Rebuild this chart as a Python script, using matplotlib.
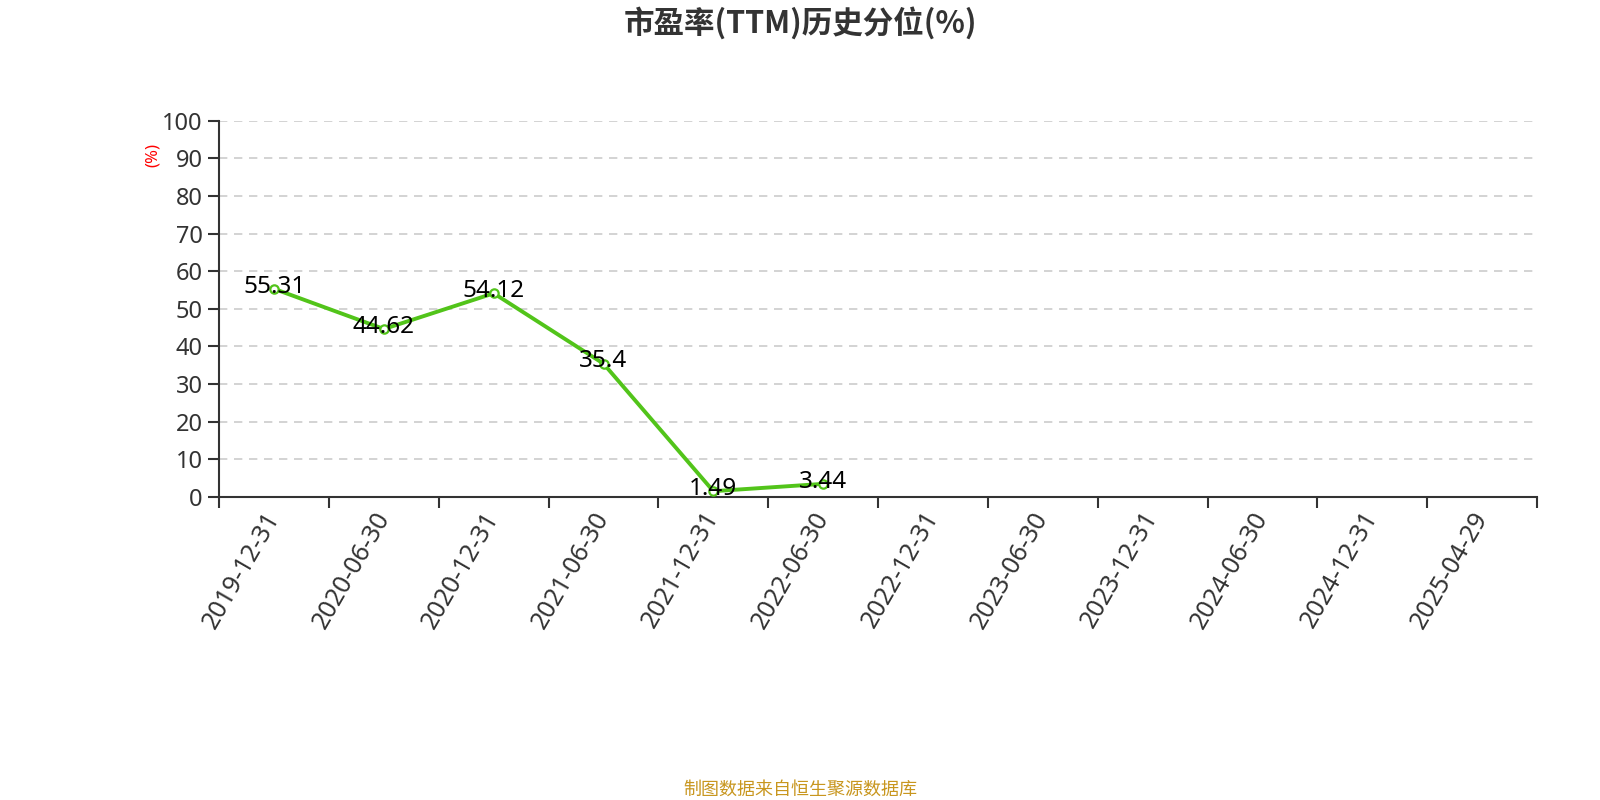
import matplotlib
matplotlib.use('Agg')
import matplotlib.pyplot as plt
import numpy as np

plt.rcParams['font.family'] = ['Noto Sans', 'Noto Sans CJK SC', 'DejaVu Sans']

# ─── Data ────────────────────────────────────────────────────────────────────
dates = ['2019-12-31', '2020-06-30', '2020-12-31', '2021-06-30', '2021-12-31',
         '2022-06-30', '2022-12-31', '2023-06-30', '2023-12-31', '2024-06-30',
         '2024-12-31', '2025-04-29']
pe_pct = [55.31, 44.62, 54.12, 35.4, 1.49, 3.44]
pe_labels = ['55.31', '44.62', '54.12', '35.4', '1.49', '3.44']
y_ticks = [0, 10, 20, 30, 40, 50, 60, 70, 80, 90, 100]

GREEN = '#52c41a'
DARK = '#333333'

# ─── Canvas ──────────────────────────────────────────────────────────────────
fig = plt.figure(figsize=(16, 8), dpi=100, facecolor='white')
ax = fig.add_axes([0.137, 0.379, 0.8236, 0.470])

x = np.arange(len(pe_pct))
ax.plot(x, pe_pct, color=GREEN, linewidth=2.8, zorder=3,
        marker='o', markersize=6, markerfacecolor='white',
        markeredgecolor=GREEN, markeredgewidth=1.6)

for xi, yi, s in zip(x, pe_pct, pe_labels):
    ax.text(xi, yi + 0.6, s, ha='center', va='center', fontsize=17.5,
            color='black', zorder=4)

ax.set_xlim(-0.5, len(dates) - 0.5)
ax.set_ylim(0, 100)

# y axis
ax.set_yticks(y_ticks)
ax.set_yticklabels([str(v) for v in y_ticks], fontsize=17, color=DARK)
ax.tick_params(axis='y', length=8, width=1.5, color=DARK, pad=4)
for v in y_ticks[1:]:
    ax.axhline(v, color='#cccccc', linewidth=1.2, linestyle=(0, (5, 4)), zorder=1)

# x axis: labels at category centres, ticks at boundaries
ax.set_xticks(np.arange(len(dates)))
ax.set_xticklabels(dates, rotation=60, ha='right', va='center',
                   rotation_mode='anchor', fontsize=18, color=DARK)
ax.tick_params(axis='x', which='major', length=0, pad=12)
ax.set_xticks(np.arange(-0.5, len(dates)), minor=True)
ax.tick_params(axis='x', which='minor', length=8, width=1.5, color=DARK)

for side in ['top', 'right']:
    ax.spines[side].set_visible(False)
for side in ['left', 'bottom']:
    ax.spines[side].set_color(DARK)
    ax.spines[side].set_linewidth(1.5)

# ─── Texts ───────────────────────────────────────────────────────────────────
fig.text(0.5, 0.971, '市盈率(TTM)历史分位(%)', ha='center', va='center',
         fontsize=22, fontweight='bold', color=DARK,
         family=['Noto Sans CJK SC', 'DejaVu Sans'])
fig.text(0.0955, 0.806, '(%)', ha='center', va='center', rotation=90,
         fontsize=12, color='red')
fig.text(0.5, 0.013, '制图数据来自恒生聚源数据库', ha='center', va='center',
         fontsize=13, color='#c8961e')

plt.savefig('out.png', dpi=100, facecolor='white')
plt.close()
